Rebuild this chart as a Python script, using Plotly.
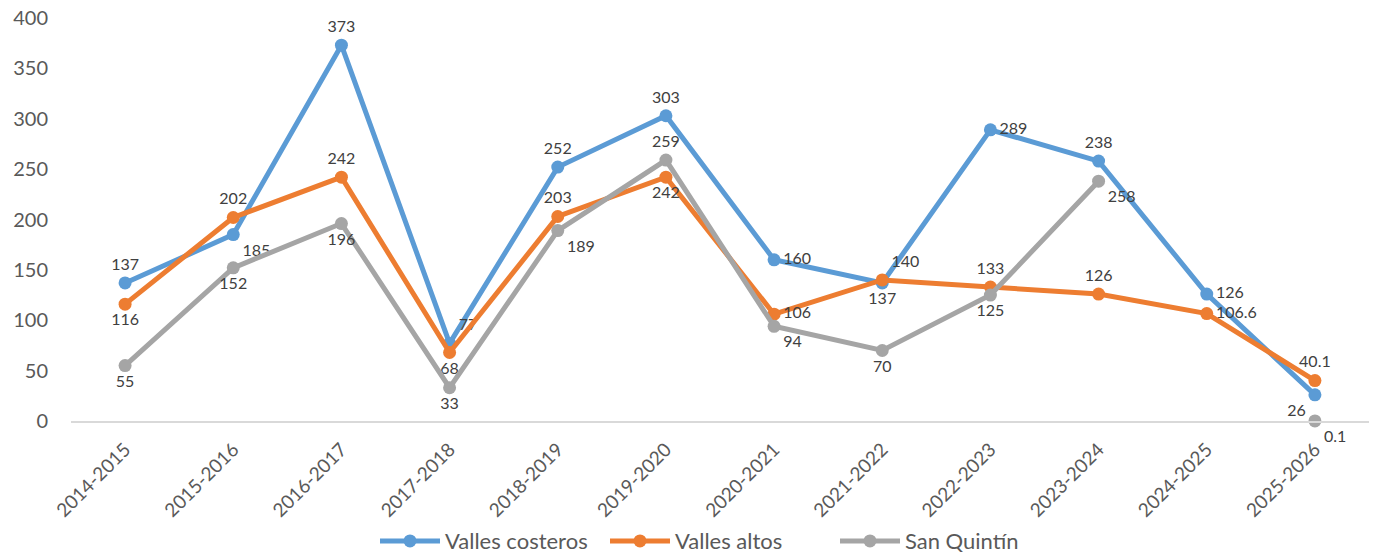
import plotly.graph_objects as go

categories = ["2014-2015", "2015-2016", "2016-2017", "2017-2018", "2018-2019", "2019-2020",
              "2020-2021", "2021-2022", "2022-2023", "2023-2024", "2024-2025", "2025-2026"]

valles_costeros = [137, 185, 373, 77, 252, 303, 160, 137, 289, 258, 126, 26]
valles_costeros_labels = ["137", "185", "373", "77", "252", "303", "160", "137", "289", "238", "126", "26"]

valles_altos = [116, 202, 242, 68, 203, 242, 106, 140, 133, 126, 106.6, 40.1]
valles_altos_labels = ["116", "202", "242", "68", "203", "242", "106", "140", "133", "126", "106.6", "40.1"]

san_quintin = [55, 152, 196, 33, 189, 259, 94, 70, 125, 238, None, 0.1]
san_quintin_labels = ["55", "152", "196", "33", "189", "259", "94", "70", "125", "258", "", "0.1"]

y_ticks = [0, 50, 100, 150, 200, 250, 300, 350, 400]

# label placement (style)
pos_costeros = ["top center", "bottom right", "top center", "top right", "top center", "top center",
                "middle right", "bottom center", "middle right", "top center", "middle right", "bottom left"]
pos_altos = ["bottom center", "top center", "top center", "bottom center", "top center", "bottom center",
             "middle right", "top right", "top center", "top center", "middle right", "top center"]
pos_sq = ["bottom center", "bottom center", "bottom center", "bottom center", "bottom right", "top center",
          "bottom right", "bottom center", "bottom center", "bottom right", "bottom center", "bottom right"]

FONT = "Lato, 'Liberation Sans', sans-serif"
LABEL_COLOR = "#404040"

fig = go.Figure()
series = [
    ("Valles costeros", valles_costeros, valles_costeros_labels, pos_costeros, "#5B9BD5"),
    ("Valles altos", valles_altos, valles_altos_labels, pos_altos, "#ED7D31"),
    ("San Quintín", san_quintin, san_quintin_labels, pos_sq, "#A5A5A5"),
]
for name, vals, labels, pos, color in series:
    fig.add_trace(go.Scatter(
        x=categories, y=vals, name=name, mode="lines+markers+text",
        text=labels, textposition=pos,
        textfont=dict(family=FONT, size=16, color=LABEL_COLOR),
        line=dict(color=color, width=5),
        marker=dict(color=color, size=13),
        cliponaxis=False,
    ))

fig.update_layout(
    width=1375, height=554,
    margin=dict(l=71, r=6, t=18, b=133, autoexpand=False),
    paper_bgcolor="white", plot_bgcolor="white",
    font=dict(family=FONT, color="#595959"),
    showlegend=True,
    legend=dict(orientation="h", x=0.5, xanchor="center", y=-0.298, yanchor="middle",
                font=dict(size=22, color="#595959"), itemwidth=60,
                entrywidth=155, entrywidthmode="pixels"),
    xaxis=dict(
        type="category", categoryorder="array", categoryarray=categories,
        showgrid=False, showline=True, linecolor="#D9D9D9", linewidth=2,
        tickangle=-45, tickfont=dict(size=19, color="#595959"),
        ticks="", range=[-0.5, len(categories) - 0.5], automargin=False,
        ticklabelstandoff=8,
    ),
    yaxis=dict(
        range=[0, 400], tickvals=y_ticks, showgrid=False, zeroline=False, showline=False,
        tickfont=dict(size=20, color="#595959"), ticks="", ticklabelstandoff=22, automargin=False,
        ticklabeloverflow="allow",
    ),
)

fig.write_html("out.html", config={"displayModeBar": False},
               post_script="document.body.style.margin='0';document.body.style.overflow='hidden';")
